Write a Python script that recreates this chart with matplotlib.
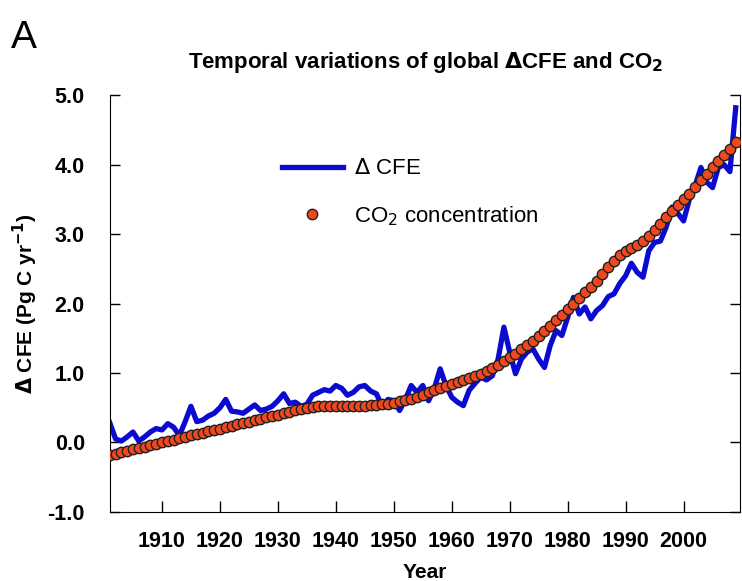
import numpy as np
import matplotlib
matplotlib.use("Agg")
from matplotlib import pyplot as plt

plt.rcParams['font.family'] = ['Liberation Sans', 'DejaVu Sans']

years = np.arange(1901, 2010)

# annual delta CFE [Pg C / yr]
cfe = [0.28, 0.05, 0.02, 0.08, 0.15, 0.02, 0.08, 0.15, 0.20, 0.18,
       0.27, 0.22, 0.10, 0.30, 0.52, 0.30, 0.32, 0.38, 0.42, 0.50,
       0.62, 0.45, 0.44, 0.42, 0.48, 0.54, 0.46, 0.48, 0.52, 0.60,
       0.70, 0.56, 0.58, 0.52, 0.55, 0.68, 0.72, 0.76, 0.74, 0.82,
       0.78, 0.68, 0.72, 0.80, 0.82, 0.74, 0.70, 0.52, 0.62, 0.60,
       0.46, 0.62, 0.82, 0.72, 0.82, 0.60, 0.78, 1.06, 0.82, 0.65,
       0.58, 0.53, 0.75, 0.85, 0.94, 0.90, 0.96, 1.20, 1.66, 1.30,
       0.99, 1.20, 1.30, 1.35, 1.20, 1.08, 1.40, 1.61, 1.54, 1.80,
       2.09, 1.85, 1.95, 1.78, 1.90, 1.97, 2.10, 2.14, 2.29, 2.40,
       2.58, 2.45, 2.38, 2.76, 2.88, 2.90, 3.10, 3.39, 3.30, 3.19,
       3.50, 3.70, 3.96, 3.75, 3.67, 3.96, 4.00, 3.90, 4.82]

# CO2 concentration, rescaled to the CFE axis
co2 = [-0.18, -0.16, -0.14, -0.12, -0.10, -0.08, -0.06, -0.04, -0.02, 0.00,
       0.02, 0.04, 0.06, 0.08, 0.10, 0.12, 0.14, 0.16, 0.18, 0.20,
       0.22, 0.24, 0.26, 0.28, 0.30, 0.32, 0.34, 0.36, 0.38, 0.40,
       0.42, 0.44, 0.46, 0.48, 0.50, 0.51, 0.52, 0.53, 0.53, 0.53,
       0.53, 0.53, 0.53, 0.53, 0.53, 0.54, 0.54, 0.55, 0.56, 0.57,
       0.59, 0.61, 0.63, 0.66, 0.69, 0.72, 0.75, 0.78, 0.81, 0.84,
       0.87, 0.90, 0.93, 0.96, 0.99, 1.03, 1.07, 1.12, 1.17, 1.23,
       1.28, 1.34, 1.40, 1.46, 1.53, 1.60, 1.68, 1.76, 1.84, 1.92,
       2.00, 2.08, 2.16, 2.24, 2.33, 2.42, 2.52, 2.62, 2.70, 2.76,
       2.80, 2.84, 2.90, 2.98, 3.06, 3.15, 3.24, 3.34, 3.42, 3.50,
       3.58, 3.68, 3.78, 3.87, 3.96, 4.05, 4.14, 4.23, 4.32]

xticks = [1910, 1920, 1930, 1940, 1950, 1960, 1970, 1980, 1990, 2000]
yticks = [-1.0, 0.0, 1.0, 2.0, 3.0, 4.0, 5.0]

fig = plt.figure(figsize=(7.42, 5.81), dpi=100)
ax = fig.add_axes([0.148, 0.119, 0.849, 0.717])

ax.plot(years, cfe, color='#0a0ad0', lw=3.8, label=r'$\Delta$ CFE', zorder=2)
ax.plot(years, co2, ls='none', marker='o', ms=7.5, mfc='#f0481e', mec='#202020',
        mew=1.0, label=r'CO$_2$ concentration', zorder=3)

ax.set_xlim(1901, 2009.7)
ax.set_ylim(-1.0, 5.0)
ax.set_xticks(xticks)
ax.set_xticklabels([str(t) for t in xticks], fontsize=15.5, fontweight='bold')
ax.set_yticks(yticks)
ax.set_yticklabels(['%.1f' % t for t in yticks], fontsize=15.5, fontweight='bold')
ax.spines['top'].set_visible(False)
ax.tick_params(axis='x', direction='in', length=8, width=1, pad=14)
ax.tick_params(axis='y', direction='in', length=7, width=1, left=True, right=True, pad=18)

ax.set_xlabel('Year', fontsize=15, fontweight='bold', labelpad=8)
ax.set_ylabel(r'$\mathbf{\Delta}$ CFE (Pg C yr$^{\mathbf{-1}}$)', fontsize=15,
              fontweight='bold', labelpad=5)

ax.legend(loc='upper left', bbox_to_anchor=(0.255, 0.875), frameon=False,
          fontsize=16, handlelength=2.75, labelspacing=1.1, borderpad=0,
          handletextpad=0.5)

fig.text(0.573, 0.893, r'Temporal variations of global $\mathbf{\Delta}$CFE and CO$_\mathbf{2}$',
         ha='center', va='center', fontsize=16, fontweight='bold')
fig.text(0.015, 0.935, 'A', fontsize=28, ha='left', va='center')

fig.savefig('out.png', dpi=100)
